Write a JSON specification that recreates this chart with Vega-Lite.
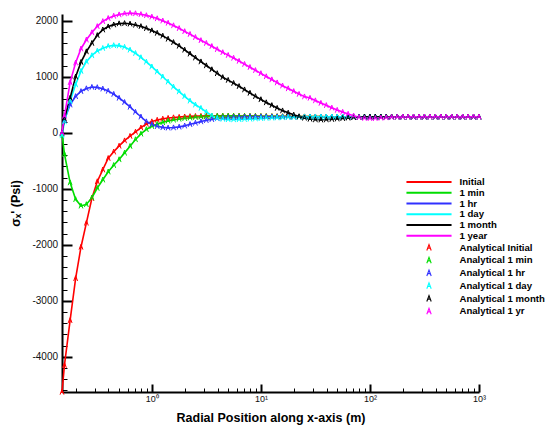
{
  "$schema": "https://vega.github.io/schema/vega-lite/v6.json",
  "width": 417,
  "height": 378,
  "autosize": {"type": "none"},
  "padding": {"left": 62, "top": 14, "right": 71, "bottom": 37},
  "background": "white",
  "config": {
    "view": {"stroke": null},
    "font": "Liberation Sans",
    "axis": {"labelColor": "#111", "titleColor": "#000", "domainColor": "#000", "tickColor": "#000", "labelFont": "Liberation Sans", "titleFont": "Liberation Sans", "grid": false}
  },
  "datasets": {
    "names": [
      {"key": "r", "series": "Initial", "mark": "Analytical Initial"},
      {"key": "g", "series": "1 min", "mark": "Analytical 1 min"},
      {"key": "b", "series": "1 hr", "mark": "Analytical 1 hr"},
      {"key": "c", "series": "1 day", "mark": "Analytical 1 day"},
      {"key": "k", "series": "1 month", "mark": "Analytical 1 month"},
      {"key": "m", "series": "1 year", "mark": "Analytical  1 yr"}
    ],
    "curves": [
      {"x": 0.15, "r": -4630, "g": -20, "b": 0, "c": -50, "k": 0, "m": 0},
      {"x": 0.158, "r": -4150, "g": -380, "b": 230, "c": 200, "k": 250, "m": 300},
      {"x": 0.178, "r": -3350, "g": -890, "b": 500, "c": 560, "k": 620, "m": 900},
      {"x": 0.2, "r": -2600, "g": -1190, "b": 650, "c": 860, "k": 1000, "m": 1250},
      {"x": 0.224, "r": -2040, "g": -1305, "b": 740, "c": 1100, "k": 1260, "m": 1500},
      {"x": 0.251, "r": -1610, "g": -1280, "b": 790, "c": 1270, "k": 1450, "m": 1660},
      {"x": 0.282, "r": -1170, "g": -1160, "b": 815, "c": 1380, "k": 1600, "m": 1790},
      {"x": 0.316, "r": -870, "g": -990, "b": 810, "c": 1460, "k": 1740, "m": 1900},
      {"x": 0.355, "r": -660, "g": -840, "b": 785, "c": 1510, "k": 1840, "m": 1990},
      {"x": 0.398, "r": -455, "g": -696, "b": 745, "c": 1545, "k": 1895, "m": 2045},
      {"x": 0.447, "r": -340, "g": -580, "b": 690, "c": 1560, "k": 1930, "m": 2085},
      {"x": 0.501, "r": -235, "g": -477, "b": 620, "c": 1555, "k": 1950, "m": 2110},
      {"x": 0.562, "r": -140, "g": -360, "b": 545, "c": 1530, "k": 1954, "m": 2128},
      {"x": 0.631, "r": -60, "g": -240, "b": 460, "c": 1480, "k": 1945, "m": 2135},
      {"x": 0.708, "r": 15, "g": -120, "b": 370, "c": 1420, "k": 1925, "m": 2130},
      {"x": 0.794, "r": 90, "g": -20, "b": 285, "c": 1345, "k": 1900, "m": 2115},
      {"x": 0.891, "r": 155, "g": 60, "b": 200, "c": 1265, "k": 1865, "m": 2095},
      {"x": 1, "r": 200, "g": 115, "b": 150, "c": 1180, "k": 1825, "m": 2070},
      {"x": 1.12, "r": 228, "g": 155, "b": 115, "c": 1090, "k": 1780, "m": 2040},
      {"x": 1.26, "r": 248, "g": 185, "b": 95, "c": 1000, "k": 1730, "m": 2000},
      {"x": 1.41, "r": 262, "g": 212, "b": 88, "c": 910, "k": 1675, "m": 1960},
      {"x": 1.58, "r": 272, "g": 230, "b": 92, "c": 820, "k": 1615, "m": 1915},
      {"x": 1.78, "r": 280, "g": 246, "b": 105, "c": 735, "k": 1550, "m": 1865},
      {"x": 2.0, "r": 287, "g": 258, "b": 125, "c": 650, "k": 1480, "m": 1810},
      {"x": 2.24, "r": 292, "g": 268, "b": 150, "c": 570, "k": 1410, "m": 1760},
      {"x": 2.51, "r": 296, "g": 277, "b": 175, "c": 500, "k": 1340, "m": 1705},
      {"x": 2.82, "r": 298, "g": 284, "b": 200, "c": 440, "k": 1270, "m": 1650},
      {"x": 3.16, "r": 300, "g": 290, "b": 222, "c": 370, "k": 1200, "m": 1600},
      {"x": 3.55, "r": 300, "g": 295, "b": 240, "c": 305, "k": 1130, "m": 1545},
      {"x": 3.98, "r": 300, "g": 298, "b": 255, "c": 260, "k": 1060, "m": 1490},
      {"x": 4.47, "r": 300, "g": 299, "b": 265, "c": 245, "k": 990, "m": 1435},
      {"x": 5.01, "r": 300, "g": 300, "b": 272, "c": 238, "k": 940, "m": 1385},
      {"x": 5.62, "r": 300, "g": 300, "b": 277, "c": 236, "k": 885, "m": 1335},
      {"x": 6.31, "r": 299, "g": 299, "b": 280, "c": 238, "k": 830, "m": 1280},
      {"x": 7.08, "r": 298, "g": 298, "b": 283, "c": 242, "k": 770, "m": 1225},
      {"x": 7.94, "r": 297, "g": 297, "b": 285, "c": 247, "k": 710, "m": 1170},
      {"x": 8.91, "r": 296, "g": 296, "b": 286, "c": 252, "k": 650, "m": 1115},
      {"x": 10, "r": 295, "g": 295, "b": 286, "c": 257, "k": 595, "m": 1060},
      {"x": 11.2, "r": 294, "g": 294, "b": 286, "c": 262, "k": 540, "m": 1005},
      {"x": 12.6, "r": 293, "g": 293, "b": 286, "c": 266, "k": 490, "m": 950},
      {"x": 14.1, "r": 292, "g": 292, "b": 286, "c": 270, "k": 440, "m": 895},
      {"x": 15.8, "r": 291, "g": 291, "b": 286, "c": 273, "k": 395, "m": 840},
      {"x": 17.8, "r": 290, "g": 290, "b": 286, "c": 276, "k": 355, "m": 790},
      {"x": 20, "r": 289, "g": 289, "b": 286, "c": 278, "k": 320, "m": 740},
      {"x": 22.4, "r": 288, "g": 288, "b": 286, "c": 280, "k": 290, "m": 690},
      {"x": 25.1, "r": 288, "g": 288, "b": 286, "c": 282, "k": 265, "m": 645},
      {"x": 28.2, "r": 287, "g": 287, "b": 286, "c": 283, "k": 245, "m": 620},
      {"x": 31.6, "r": 287, "g": 287, "b": 286, "c": 284, "k": 235, "m": 575},
      {"x": 35.5, "r": 287, "g": 287, "b": 286, "c": 285, "k": 232, "m": 530},
      {"x": 39.8, "r": 286, "g": 286, "b": 286, "c": 285, "k": 235, "m": 490},
      {"x": 44.7, "r": 286, "g": 286, "b": 286, "c": 286, "k": 242, "m": 445},
      {"x": 50.1, "r": 286, "g": 286, "b": 286, "c": 286, "k": 250, "m": 405},
      {"x": 56.2, "r": 286, "g": 286, "b": 286, "c": 286, "k": 258, "m": 370},
      {"x": 63.1, "r": 286, "g": 286, "b": 286, "c": 286, "k": 266, "m": 335},
      {"x": 70.8, "r": 286, "g": 286, "b": 286, "c": 286, "k": 274, "m": 305},
      {"x": 79.4, "r": 286, "g": 286, "b": 286, "c": 286, "k": 280, "m": 275},
      {"x": 89.1, "r": 286, "g": 286, "b": 286, "c": 286, "k": 284, "m": 260},
      {"x": 100, "r": 286, "g": 286, "b": 286, "c": 286, "k": 286, "m": 257},
      {"x": 112, "r": 286, "g": 286, "b": 286, "c": 286, "k": 286, "m": 258},
      {"x": 126, "r": 286, "g": 286, "b": 286, "c": 286, "k": 286, "m": 265},
      {"x": 141, "r": 286, "g": 286, "b": 286, "c": 286, "k": 286, "m": 272},
      {"x": 158, "r": 286, "g": 286, "b": 286, "c": 286, "k": 286, "m": 278},
      {"x": 178, "r": 286, "g": 286, "b": 286, "c": 286, "k": 286, "m": 282},
      {"x": 200, "r": 286, "g": 286, "b": 286, "c": 286, "k": 286, "m": 285},
      {"x": 224, "r": 286, "g": 286, "b": 286, "c": 286, "k": 286, "m": 286},
      {"x": 251, "r": 286, "g": 286, "b": 286, "c": 286, "k": 286, "m": 286},
      {"x": 282, "r": 286, "g": 286, "b": 286, "c": 286, "k": 286, "m": 286},
      {"x": 316, "r": 286, "g": 286, "b": 286, "c": 286, "k": 286, "m": 286},
      {"x": 355, "r": 286, "g": 286, "b": 286, "c": 286, "k": 286, "m": 286},
      {"x": 398, "r": 286, "g": 286, "b": 286, "c": 286, "k": 286, "m": 286},
      {"x": 447, "r": 286, "g": 286, "b": 286, "c": 286, "k": 286, "m": 286},
      {"x": 501, "r": 286, "g": 286, "b": 286, "c": 286, "k": 286, "m": 286},
      {"x": 562, "r": 286, "g": 286, "b": 286, "c": 286, "k": 286, "m": 286},
      {"x": 631, "r": 286, "g": 286, "b": 286, "c": 286, "k": 286, "m": 286},
      {"x": 708, "r": 286, "g": 286, "b": 286, "c": 286, "k": 286, "m": 286},
      {"x": 794, "r": 286, "g": 286, "b": 286, "c": 286, "k": 286, "m": 286},
      {"x": 891, "r": 286, "g": 286, "b": 286, "c": 286, "k": 286, "m": 286},
      {"x": 1000, "r": 286, "g": 286, "b": 286, "c": 286, "k": 286, "m": 286}
    ]
  },
  "data": {"name": "curves"},
  "transform": [
    {"fold": ["r", "g", "b", "c", "k", "m"], "as": ["key", "y"]},
    {"lookup": "key", "from": {"data": {"name": "names"}, "key": "key", "fields": ["series", "mark"]}}
  ],
  "resolve": {"axis": {"x": "independent", "y": "independent"}},
  "layer": [
    {
      "mark": {"type": "line", "strokeWidth": 1.6},
      "encoding": {
        "x": {
          "field": "x", "type": "quantitative",
          "scale": {"type": "log", "domain": [0.15, 1000], "nice": false},
          "axis": {
            "orient": "bottom",
            "values": [1, 10, 100, 1000],
            "labelExpr": "datum.value == 1 ? '10⁰' : datum.value == 10 ? '10¹' : datum.value == 100 ? '10²' : '10³'",
            "tickSize": -8, "tickWidth": 2, "domain": true, "domainWidth": 2, "labels": true,
            "labelPadding": 10, "labelFontSize": 9, "labelFlush": false,
            "title": "Radial Position along x-axis (m)",
            "titleFontSize": 12.5, "titleFontWeight": "bold", "titlePadding": 8
          }
        },
        "y": {
          "field": "y", "type": "quantitative",
          "scale": {"domain": [-4630, 2120], "nice": false, "zero": false},
          "axis": {
            "orient": "left",
            "values": [-4000, -3000, -2000, -1000, 0, 1000, 2000],
            "labelExpr": "'' + datum.value",
            "tickSize": -10, "tickWidth": 2, "domain": true, "domainWidth": 2, "labels": true,
            "labelPadding": 14.5, "labelFontSize": 10,
            "title": "σₓ' (Psi)",
            "titleFontSize": 12.5, "titleFontWeight": "bold", "titlePadding": 9
          }
        },
        "color": {
          "field": "series", "type": "nominal",
          "scale": {
            "domain": ["Initial", "1 min", "1 hr", "1 day", "1 month", "1 year", "Analytical Initial", "Analytical 1 min", "Analytical 1 hr", "Analytical 1 day", "Analytical 1 month", "Analytical  1 yr"],
            "range": ["#ff0000", "#00dd00", "#3030ff", "#00ffff", "#000000", "#ff00ff", "#ff0000", "#00dd00", "#3030ff", "#00ffff", "#000000", "#ff00ff"]
          },
          "legend": {
            "title": null, "orient": "none", "legendX": 362, "legendY": 163,
            "symbolSize": 64, "labelFontSize": 9.6, "labelFontWeight": "bold", "labelFont": "Liberation Sans",
            "labelColor": "#000", "labelOffset": 25.5, "rowPadding": 0.75, "padding": 0, "symbolStrokeWidth": 1.1
          }
        }
      }
    },
    {
      "mark": {"type": "point", "filled": false, "strokeWidth": 1, "size": 50, "opacity": 1},
      "encoding": {
        "x": {
          "field": "x", "type": "quantitative",
          "scale": {"type": "log", "domain": [0.15, 1000], "nice": false},
          "axis": {
            "orient": "bottom",
            "values": [0.2, 0.3, 0.4, 0.5, 0.6, 0.7, 0.8, 0.9, 2, 3, 4, 5, 6, 7, 8, 9, 20, 30, 40, 50, 60, 70, 80, 90, 200, 300, 400, 500, 600, 700, 800, 900],
            "labels": false, "domain": false, "tickSize": -4, "tickWidth": 1, "title": null
          }
        },
        "y": {
          "field": "y", "type": "quantitative",
          "scale": {"domain": [-4630, 2120], "nice": false, "zero": false},
          "axis": {
            "orient": "left",
            "values": [-4600, -4400, -4200, -3800, -3600, -3400, -3200, -2800, -2600, -2400, -2200, -1800, -1600, -1400, -1200, -800, -600, -400, -200, 200, 400, 600, 800, 1200, 1400, 1600, 1800],
            "labels": false, "domain": false, "tickSize": -5, "tickWidth": 1, "title": null
          }
        },
        "color": {
          "field": "mark", "type": "nominal",
          "scale": {
            "domain": ["Initial", "1 min", "1 hr", "1 day", "1 month", "1 year", "Analytical Initial", "Analytical 1 min", "Analytical 1 hr", "Analytical 1 day", "Analytical 1 month", "Analytical  1 yr"],
            "range": ["#ff0000", "#00dd00", "#3030ff", "#00ffff", "#000000", "#ff00ff", "#ff0000", "#00dd00", "#3030ff", "#00ffff", "#000000", "#ff00ff"]
          },
          "legend": {
            "title": null, "orient": "none", "legendX": 362, "legendY": 163,
            "symbolSize": 64, "labelFontSize": 9.6, "labelFontWeight": "bold", "labelFont": "Liberation Sans",
            "labelColor": "#000", "labelOffset": 25.5, "rowPadding": 0.75, "padding": 0, "symbolStrokeWidth": 1.1
          }
        },
        "shape": {
          "field": "mark", "type": "nominal",
          "scale": {
            "domain": ["Initial", "1 min", "1 hr", "1 day", "1 month", "1 year", "Analytical Initial", "Analytical 1 min", "Analytical 1 hr", "Analytical 1 day", "Analytical 1 month", "Analytical  1 yr"],
            "range": ["M-5.5,-0.12H5.5V0.12H-5.5Z", "M-5.5,-0.12H5.5V0.12H-5.5Z", "M-5.5,-0.12H5.5V0.12H-5.5Z", "M-5.5,-0.12H5.5V0.12H-5.5Z", "M-5.5,-0.12H5.5V0.12H-5.5Z", "M-5.5,-0.12H5.5V0.12H-5.5Z", "M-0.55,0.75L0,-0.75L0.55,0.75M-0.3,0.15H0.3", "M-0.55,0.75L0,-0.75L0.55,0.75M-0.3,0.15H0.3", "M-0.55,0.75L0,-0.75L0.55,0.75M-0.3,0.15H0.3", "M-0.55,0.75L0,-0.75L0.55,0.75M-0.3,0.15H0.3", "M-0.55,0.75L0,-0.75L0.55,0.75M-0.3,0.15H0.3", "M-0.55,0.75L0,-0.75L0.55,0.75M-0.3,0.15H0.3"]
          },
          "legend": {
            "title": null, "orient": "none", "legendX": 362, "legendY": 163,
            "symbolSize": 64, "labelFontSize": 9.6, "labelFontWeight": "bold", "labelFont": "Liberation Sans",
            "labelColor": "#000", "labelOffset": 25.5, "rowPadding": 0.75, "padding": 0, "symbolStrokeWidth": 1.1
          }
        }
      }
    }
  ]
}
